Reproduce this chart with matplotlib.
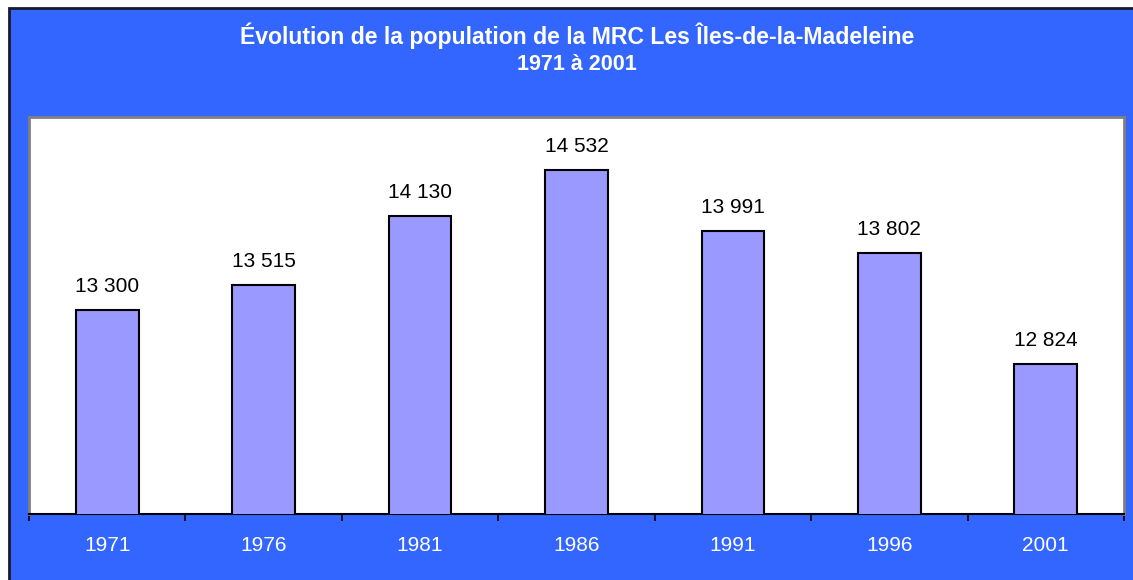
import matplotlib
matplotlib.use("Agg")
import matplotlib.pyplot as plt
from matplotlib.patches import Rectangle
import numpy as np

years = ["1971", "1976", "1981", "1986", "1991", "1996", "2001"]
population = [13300, 13515, 14130, 14532, 13991, 13802, 12824]
title_lines = ["Évolution de la population de la MRC Les Îles-de-la-Madeleine", "1971 à 2001"]

plt.rcParams['font.family'] = ['Liberation Sans', 'DejaVu Sans']

W, H = 1133, 580
fig = plt.figure(figsize=(W / 100, H / 100), dpi=100)
fig.patch.set_facecolor("white")

# blue chart area with dark frame on top/left (right/bottom edges run off the figure)
bg = Rectangle((8.5 / W, -0.05), 1.1, (H - 7.5) / H + 0.05, transform=fig.transFigure,
               facecolor="#3366FF", edgecolor="#1a1a2e", linewidth=2.0, zorder=-10)
fig.patches.append(bg)

ax = fig.add_axes([29 / W, 66 / H, (1124 - 29) / W, (514 - 117) / H])
ax.set_zorder(5)
ax.set_facecolor("white")
x = np.arange(len(years))
ax.bar(x, population, width=0.4, color="#9999FF", edgecolor="black", linewidth=1.5, zorder=3)
ax.set_xlim(-0.5, len(years) - 0.5)
ax.set_ylim(11500, 15000)
ax.set_yticks([])

for xi, v in zip(x, population):
    ax.annotate(f"{v:,}".replace(",", " "), (xi, v), xytext=(0, 13), textcoords="offset points",
                ha="center", va="baseline", fontsize=15, color="black")

ax.set_xticks(x)
ax.set_xticklabels(years, color="white", fontsize=15)
ax.tick_params(axis="x", which="major", length=0, pad=16)
ax.set_xticks(np.arange(-0.5, len(years)), minor=True)
ax.tick_params(axis="x", which="minor", length=5, width=1.2, color="black", direction="out")

for s in ["left", "top", "right"]:
    ax.spines[s].set_color("#808080")
    ax.spines[s].set_linewidth(2)
ax.spines["bottom"].set_color("black")
ax.spines["bottom"].set_linewidth(1.5)

fig.text(577 / W, 1 - 36 / H, title_lines[0], ha="center", va="center",
         fontsize=16.6, fontweight="bold", color="white")
fig.text(577 / W, 1 - 65 / H, title_lines[1], ha="center", va="center",
         fontsize=15.5, fontweight="bold", color="white")

fig.savefig("out.png", dpi=100, facecolor=fig.get_facecolor())
